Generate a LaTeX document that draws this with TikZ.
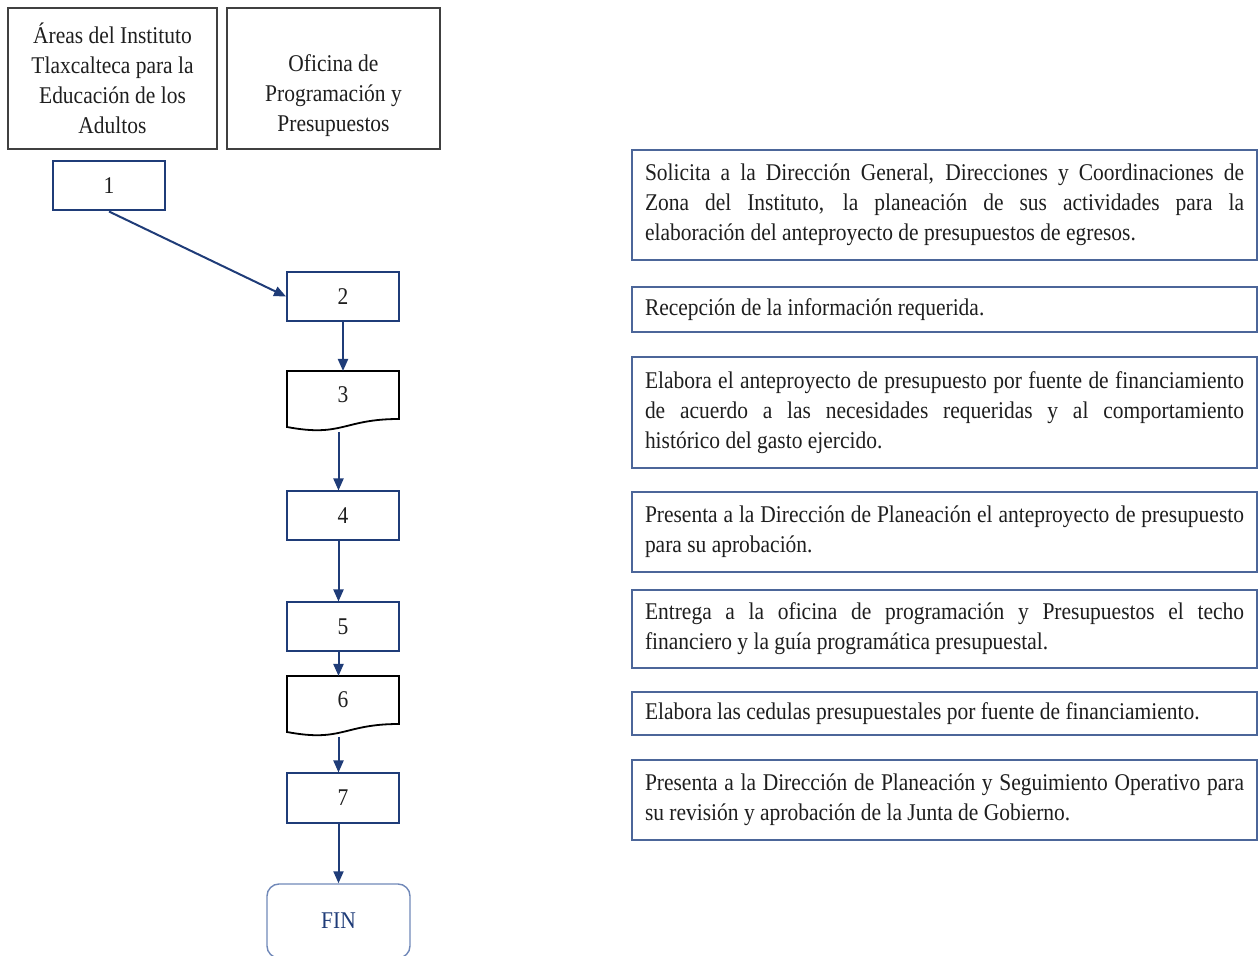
\documentclass[tikz,border=0pt]{standalone}
\usepackage{fontspec}
\setmainfont{Liberation Serif}[FakeStretch=0.895]
\usetikzlibrary{arrows.meta, calc}
\definecolor{stepblue}{HTML}{1F3C78}
\definecolor{noteblue}{HTML}{4C6699}
\definecolor{lanegray}{HTML}{404040}
\definecolor{finblue}{HTML}{7088B8}
\definecolor{inkgray}{HTML}{1E1E1E}
\tikzset{
  lane/.style={draw=lanegray, line width=0.6pt, align=center, minimum height=70.5pt, inner sep=0pt},
  stepbox/.style={draw=stepblue, line width=1pt, minimum width=56pt, minimum height=24.5pt, inner sep=0pt},
  docbox/.style={minimum width=56pt, minimum height=24pt, inner sep=0pt, outer sep=0pt},
  docline/.style={draw=black, line width=0.9pt},
  note/.style={draw=noteblue, line width=0.7pt, text width=299.5pt, inner xsep=6.5pt, inner ysep=0pt, align=justify},
  finbox/.style={draw=finblue, line width=0.7pt, rounded corners=6pt, minimum width=71.5pt, minimum height=37pt, text=stepblue},
  flow/.style={draw=stepblue, line width=1pt, -{Triangle[length=6pt,width=5pt]}},
}
\newcommand{\docoutline}[1]{%
  \draw[docline] (#1.north west) -- (#1.north east) -- (#1.south east)
    .. controls (#1.south) and ($(#1.south)+(0,18.5)$) .. ($(#1.south west)+(0,8)$) -- cycle;
  \coordinate (#1-foot) at ($(#1.south)+(0,13)$);}

\begin{document}
\begin{tikzpicture}[x=0.5pt, y=-0.5pt, every node/.style={font=\fontsize{12}{15}\selectfont, text=inkgray}]
                \useasboundingbox (0,0) rectangle (1259,956);
                \node[lane, minimum width=104.5pt] (areas) at (112.5,78.5)
                  {Áreas del Instituto\\Tlaxcalteca para la\\Educación de los\\Adultos};
                \node[lane, minimum width=106.5pt] (oficina) at (333.5,78.5)
                  {\vphantom{Áreas}\\Oficina de\\Programación y\\Presupuestos};
                \node[stepbox] (n1) at (109,186) {1};
                \node[stepbox] (n2) at (343,296.5) {2};
                \node[docbox] (n3) at (343,395) {3};
                \docoutline{n3}
                \node[stepbox] (n4) at (343,516) {4};
                \node[stepbox] (n5) at (343,627) {5};
                \node[docbox] (n6) at (343,700) {6};
                \docoutline{n6}
                \node[stepbox] (n7) at (343,798) {7};
                \node[finbox] (fin) at (338.5,921) {FIN};
                \draw[flow] (n1.south) -- (n2.west);
                \draw[flow] (n2.south) -- (n3.north);
                \draw[flow] (n3-foot -| fin.north) -- (n4.north -| fin.north);
                \draw[flow] (n4.south -| fin.north) -- (n5.north -| fin.north);
                \draw[flow] (n5.south -| fin.north) -- (n6.north -| fin.north);
                \draw[flow] (n6-foot -| fin.north) -- (n7.north -| fin.north);
                \draw[flow] (n7.south -| fin.north) -- (fin.north);
                \node[note, minimum height=55pt] (t1) at (944.5,205)
                  {Solicita a la Dirección General, Direcciones y Coordinaciones de\linebreak Zona del Instituto, la planeación de sus actividades para la\linebreak elaboración del anteproyecto de presupuestos de egresos.};
                \node[note, minimum height=22.5pt] (t2) at (944.5,309.5)
                  {Recepción de la información requerida.};
                \node[note, minimum height=55.5pt] (t3) at (944.5,412.5)
                  {Elabora el anteproyecto de presupuesto por fuente de financiamiento\linebreak de acuerdo a las necesidades requeridas y al comportamiento\linebreak histórico del gasto ejercido.};
                \node[note, minimum height=40pt] (t4) at (944.5,532)
                  {Presenta a la Dirección de Planeación el anteproyecto de presupuesto\linebreak para su aprobación.};
                \node[note, minimum height=39pt] (t5) at (944.5,629)
                  {Entrega a la oficina de programación y Presupuestos el techo\linebreak financiero y la guía programática presupuestal.};
                \node[note, minimum height=21.5pt] (t6) at (944.5,713.5)
                  {Elabora las cedulas presupuestales por fuente de financiamiento.};
                \node[note, minimum height=40pt] (t7) at (944.5,800)
                  {Presenta a la Dirección de Planeación y Seguimiento Operativo para\linebreak su revisión y aprobación de la Junta de Gobierno.};
\end{tikzpicture}
\end{document}
